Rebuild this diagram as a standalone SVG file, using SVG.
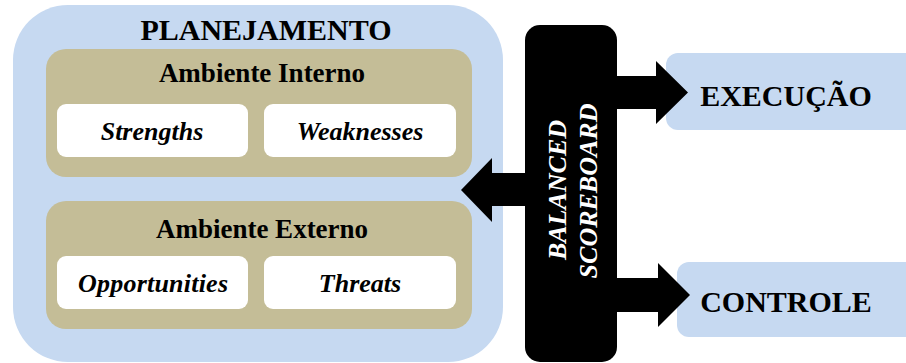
<svg xmlns="http://www.w3.org/2000/svg" width="906" height="363" viewBox="0 0 906 363" font-family="'Liberation Serif', serif">
  <style>
    .outer { fill: #c6d9f1; }
    .env { fill: #c4bd97; }
    .cell { fill: #ffffff; }
    .bsc { fill: #000000; }
    .arrow { fill: #000000; }
    .title { font-weight: bold; font-size: 30px; fill: #000; text-anchor: middle; }
    .head { font-weight: bold; font-size: 27px; fill: #000; text-anchor: middle; }
    .item { font-weight: bold; font-style: italic; font-size: 26px; fill: #000; text-anchor: middle; }
    .vert { font-weight: bold; font-style: italic; font-size: 26px; fill: #fff; text-anchor: middle; }
  </style>

  <!-- Planning block -->
  <g id="planejamento">
    <rect class="outer" x="13" y="5" width="490" height="357" rx="55" ry="55"/>
    <text class="title" x="266" y="40">PLANEJAMENTO</text>
  </g>

  <g id="ambiente-interno">
    <rect class="env" x="46" y="49" width="426" height="128" rx="20" ry="20"/>
    <text class="head" x="262" y="82">Ambiente Interno</text>
  </g>
  <g id="strengths">
    <rect class="cell" x="57" y="104" width="191" height="53" rx="9" ry="9"/>
    <text class="item" x="152" y="140">Strengths</text>
  </g>
  <g id="weaknesses">
    <rect class="cell" x="264" y="104" width="192" height="53" rx="9" ry="9"/>
    <text class="item" x="360" y="140">Weaknesses</text>
  </g>

  <g id="ambiente-externo">
    <rect class="env" x="46" y="201" width="426" height="128" rx="20" ry="20"/>
    <text class="head" x="262" y="238">Ambiente Externo</text>
  </g>
  <g id="opportunities">
    <rect class="cell" x="57" y="256" width="191" height="53" rx="9" ry="9"/>
    <text class="item" x="153" y="292" textLength="150">Opportunities</text>
  </g>
  <g id="threats">
    <rect class="cell" x="264" y="256" width="192" height="53" rx="9" ry="9"/>
    <text class="item" x="360" y="292">Threats</text>
  </g>

  <!-- Balanced Scorecard bar -->
  <g id="balanced-scoreboard">
    <rect class="bsc" x="525" y="25" width="92" height="337" rx="15" ry="15"/>
    <text class="vert" transform="translate(566,190) rotate(-90)">BALANCED</text>
    <text class="vert" transform="translate(597,191) rotate(-90)">SCOREBOARD</text>
  </g>

  <!-- Outcome blocks -->
  <g id="execucao">
    <rect class="outer" x="666" y="53" width="256" height="77" rx="12" ry="12"/>
    <text class="title" x="786" y="106">EXECUÇÃO</text>
  </g>
  <g id="controle">
    <rect class="outer" x="677" y="262" width="245" height="75" rx="12" ry="12"/>
    <text class="title" x="786" y="312">CONTROLE</text>
  </g>

  <!-- Block arrows -->
  <g id="connectors">
    <polygon class="arrow" points="526,173 492,173 492,158 461,190 492,222 492,206 526,206"/>
    <polygon class="arrow" points="616,76 656,76 656,61 688,92.5 656,124 656,109 616,109"/>
    <polygon class="arrow" points="616,278 658,278 658,263 690,295 658,327 658,312 616,312"/>
  </g>
</svg>
